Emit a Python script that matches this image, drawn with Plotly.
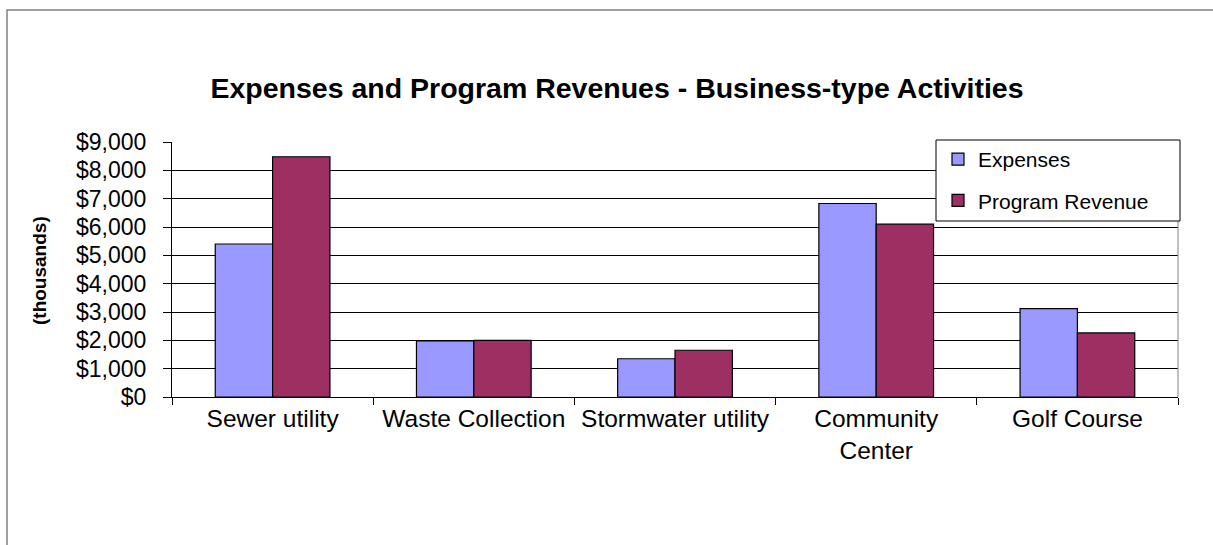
import plotly.graph_objects as go

# Business-type activities, values in thousands of dollars
categories = ["Sewer utility", "Waste Collection", "Stormwater utility",
              "Community<br>Center", "Golf Course"]
expenses = [5400, 1980, 1350, 6830, 3120]
program_revenue = [8480, 2000, 1650, 6100, 2260]
y_ticks = [0, 1000, 2000, 3000, 4000, 5000, 6000, 7000, 8000, 9000]

W, H = 1213, 545
L, R, T, B = 172, 35, 142, 148
PW, PH = W - L - R, H - T - B


def px_x(x):
    """Pixel column -> paper x coordinate."""
    return (x - L) / PW


def px_y(y):
    """Pixel row -> paper y coordinate."""
    return (H - B - y) / PH


fig = go.Figure()
fig.add_trace(go.Bar(
    name="Expenses", x=categories, y=expenses, legendgroup="exp",
    marker=dict(color="#9999FF", line=dict(color="#000000", width=1.2)),
))
fig.add_trace(go.Bar(
    name="Program Revenue", x=categories, y=program_revenue, legendgroup="rev",
    marker=dict(color="#9E2F63", line=dict(color="#000000", width=1.2)),
))

font_family = "Liberation Sans, Arial, sans-serif"

fig.update_layout(
    width=W, height=H,
    margin=dict(l=L, r=R, t=T, b=B),
    paper_bgcolor="white", plot_bgcolor="white",
    barmode="group", bargap=0.43, bargroupgap=0,
    font=dict(family=font_family, color="#000000"),
    title=dict(
        text="<b>Expenses and Program Revenues - Business-type Activities</b>",
        x=617 / W, xanchor="center", y=1 - 88 / H, yanchor="middle",
        font=dict(size=28.5, family=font_family, color="#000000"),
    ),
    showlegend=True,
    legend=dict(
        x=px_x(938), xanchor="left",
        y=px_y(139), yanchor="top",
        bgcolor="rgba(0,0,0,0)", borderwidth=0,
        font=dict(size=21, family=font_family, color="#000000"),
        traceorder="grouped", tracegroupgap=11,
        itemwidth=30,
    ),
    xaxis=dict(
        showline=True, linecolor="#000000", linewidth=1,
        ticks="outside", tickson="boundaries", ticklen=7, tickcolor="#000000",
        tickangle=0,
        tickfont=dict(size=24.5, family=font_family, color="#000000"),
        showgrid=False, mirror=False,
    ),
    yaxis=dict(
        range=[0, 9000], tickvals=y_ticks, tickformat="$,.0f",
        showline=True, linecolor="#000000", linewidth=1,
        ticks="outside", ticklen=8, tickcolor="#000000",
        ticklabelstandoff=12,
        tickfont=dict(size=23, family=font_family, color="#000000"),
        showgrid=True, gridcolor="#000000", gridwidth=1,
        zeroline=False, mirror=False,
    ),
    annotations=[dict(
        text="<b>(thousands)</b>", textangle=-90,
        xref="paper", yref="paper",
        x=px_x(39), y=px_y(271),
        xanchor="center", yanchor="middle", showarrow=False,
        font=dict(size=19, family=font_family, color="#000000"),
    )],
    shapes=[
        # outer chart frame
        dict(type="rect", xref="paper", yref="paper",
             x0=px_x(7), x1=px_x(1230), y0=px_y(560), y1=px_y(10),
             line=dict(color="#808080", width=1.5), layer="below"),
        # right edge of the plot area
        dict(type="line", xref="paper", yref="paper",
             x0=1, x1=1, y0=0, y1=1,
             line=dict(color="#808080", width=1)),
        # legend box
        dict(type="rect", xref="paper", yref="paper",
             x0=px_x(936), x1=px_x(1180), y0=px_y(221), y1=px_y(140),
             fillcolor="white", line=dict(color="#000000", width=1),
             layer="above"),
    ],
)

fig.write_html("out.html")
